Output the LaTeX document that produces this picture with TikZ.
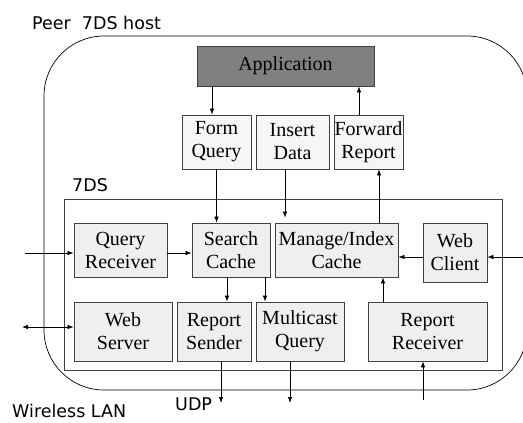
\documentclass[tikz,border=0pt]{standalone}
\usepackage{fontspec}
\setmainfont{Liberation Serif}
\newfontfamily\lblfont{DejaVu Sans}
\usetikzlibrary{arrows.meta}
\definecolor{appgray}{HTML}{808080}
\definecolor{boxgray}{HTML}{EFEFEF}
\definecolor{topgray}{HTML}{F6F6F6}
\definecolor{edgegray}{HTML}{404040}
\begin{document}
\begin{tikzpicture}[x=1pt,y=-1pt,
  blk/.style={draw=edgegray,line width=0.8pt,fill=boxgray,inner sep=0pt,align=center,
    font=\fontsize{20}{23}\selectfont},
  topblk/.style={blk,fill=topgray},
  lbl/.style={font=\lblfont\fontsize{17.5}{20}\selectfont,inner sep=0pt,anchor=west},
  arr/.style={-{Latex[length=6pt,width=4.5pt]},line width=0.7pt},
  darr/.style={{Latex[length=6pt,width=4.5pt]}-{Latex[length=6pt,width=4.5pt]},line width=0.7pt}]
\useasboundingbox (0,0) rectangle (523,423);
% outer host
\draw[line width=0.7pt,rounded corners=60pt] (44,36) rectangle (527,390);
\node[lbl] (title) at (32,23) {Peer\ \ 7DS host};
% inner 7DS box
\draw[draw=edgegray,line width=0.8pt] (64,199) rectangle (502,370);
\node[lbl] (sds) at (72,185) {7DS};
% nodes
\node[blk,fill=appgray,minimum width=177pt,minimum height=40pt] (App) at (285.5,66) {Application};
\node[topblk,minimum width=69pt,minimum height=54pt] (FQ) at (216.5,142) {Form\\Query};
\node[topblk,minimum width=73pt,minimum height=54pt] (ID) at (292.5,142) {Insert\\Data};
\node[topblk,minimum width=69pt,minimum height=54pt] (FR) at (368.5,142) {Forward\\Report};
\node[blk,minimum width=93pt,minimum height=54pt] (QR) at (120.5,250) {Query\\Receiver};
\node[blk,minimum width=78pt,minimum height=54pt] (SC) at (231,250) {Search\\Cache};
\node[blk,minimum width=123pt,minimum height=54pt] (MI) at (336.5,250) {Manage/Index\\Cache};
\node[blk,minimum width=64pt,minimum height=59pt] (WC) at (455,252.5) {Web\\Client};
\node[blk,minimum width=98pt,minimum height=59pt] (WS) at (123,331.5) {Web\\Server};
\node[blk,minimum width=74pt,minimum height=59pt] (RS) at (214,331.5) {Report\\Sender};
\node[blk,minimum width=88pt,minimum height=59pt] (MQ) at (300,331.5) {Multicast\\Query};
\node[blk,minimum width=119pt,minimum height=59pt] (RR) at (427.5,331.5) {Report\\Receiver};
% free ends
\coordinate (qin) at (25,253);
\coordinate (wcin) at (523,257);
\coordinate (wsout) at (22,327);
\coordinate (rsout) at (221,403);
\coordinate (mqout) at (290,403);
\coordinate (rrin) at (423,400);
% connectors
\draw[arr] ([xshift=-4.5pt]App.south -| FQ.north) -- ([xshift=-4.5pt]FQ.north);
\draw[arr] ([xshift=-9.5pt]FR.north) -- ([xshift=-9.5pt]FR.north |- App.south);
\draw[arr] (FQ.south) -- (FQ.south |- SC.north);
\draw[arr,shorten >=5pt] ([xshift=-7.5pt]ID.south) -- ([xshift=-7.5pt]ID.south |- MI.north);
\draw[arr] ([xshift=42.5pt]MI.north) -- ([xshift=42.5pt]MI.north |- FR.south);
\draw[arr] (qin) -- (qin -| QR.west);
\draw[arr] ([yshift=-3pt]QR.east) -- ([yshift=-3pt]QR.east -| SC.west);
\draw[arr] (wcin) -- (wcin -| WC.east);
\draw[arr] ([yshift=-4.5pt]WC.west) -- ([yshift=-4.5pt]WC.west -| MI.east);
\draw[arr] ([xshift=-4pt]SC.south) -- ([xshift=-4pt]SC.south |- RS.north);
\draw[arr] ([xshift=34pt]SC.south) -- ([xshift=34pt]SC.south |- MQ.north);
\draw[arr] ([xshift=-44.5pt]RR.north) -- ([xshift=-44.5pt]RR.north |- MI.south);
\draw[darr] (wsout) -- (wsout -| WS.west);
\draw[arr] ([xshift=7pt]RS.south) -- (rsout);
\draw[arr] ([xshift=-10pt]MQ.south) -- (mqout);
\draw[arr] (rrin) -- (rrin |- RR.south);
% labels
\node[lbl] (udp) at (175,404) {UDP};
\node[lbl] (wlan) at (12,411) {Wireless LAN};
\end{tikzpicture}
\end{document}
